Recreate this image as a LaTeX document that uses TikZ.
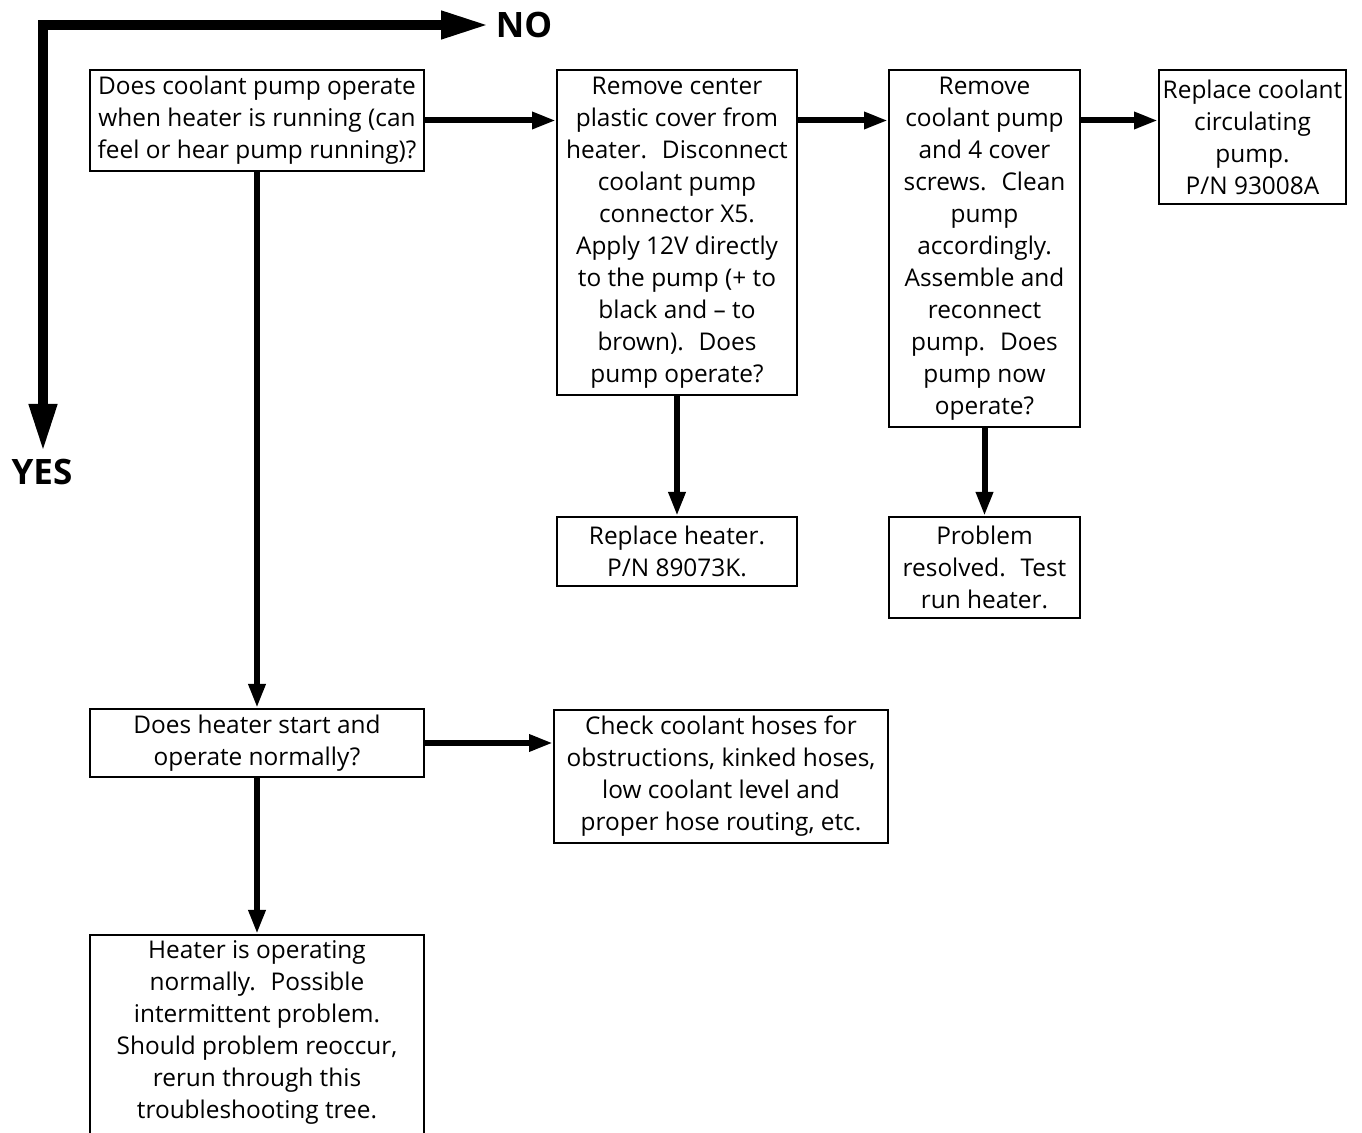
\documentclass[tikz,border=0pt]{standalone}
\usepackage{fontspec}
\setmainfont{Open Sans}
\usetikzlibrary{arrows.meta}
\begin{document}
\begin{tikzpicture}[x=0.5pt,y=-0.5pt,
  box/.style={draw,line width=1pt,rectangle,inner sep=0pt,align=center,
    font=\fontsize{12.2}{16}\selectfont},
  conn/.style={line width=3pt,-{Triangle[length=12pt,width=8pt]}},
  legendline/.style={line width=5pt,{Triangle[length=24pt,width=13pt]}-{Triangle[length=24pt,width=13pt]}},
  lbl/.style={font=\fontsize{17.5}{20}\selectfont\bfseries,inner sep=0pt}]
\useasboundingbox (0,0) rectangle (1362,1133);
% legend
\node[lbl] (no) at (524,25) {NO};
\node[lbl] (yes) at (42,472) {YES};
\coordinate (noend) at (489,25);
\coordinate (yesend) at (43,452);
\coordinate (corner) at (43,25);
\draw[legendline] (yesend) -- (corner) -- (noend);
% boxes
\node[box,minimum width=167pt,minimum height=50.5pt] (b1) at (257,120.5)
  {Does coolant pump operate\\when heater is running (can\\feel or hear pump running)?};
\node[box,minimum width=120pt,minimum height=162.5pt] (b2) at (677,232.5)
  {Remove center\\plastic cover from\\heater.~ Disconnect\\coolant pump\\connector X5.\\Apply 12V directly\\to the pump (+ to\\black and – to\\brown).~ Does\\pump operate?};
\node[box,minimum width=95.5pt,minimum height=178.5pt] (b3) at (984.5,248.5)
  {Remove\\coolant pump\\and 4 cover\\screws.~ Clean\\pump\\accordingly.\\Assemble and\\reconnect\\pump.~ Does\\pump now\\operate?};
\node[box,minimum width=93.5pt,minimum height=67pt] (b4) at (1252.5,137)
  {Replace coolant\\circulating\\pump.\\P/N 93008A};
\node[box,minimum width=120pt,minimum height=34.5pt] (b5) at (677,551.5)
  {Replace heater.\\P/N 89073K.};
\node[box,minimum width=95.5pt,minimum height=50.5pt] (b6) at (984.5,567.5)
  {Problem\\resolved.~ Test\\run heater.};
\node[box,minimum width=167pt,minimum height=34pt] (b7) at (257,743)
  {Does heater start and\\operate normally?};
\node[box,minimum width=167pt,minimum height=66.5pt] (b8) at (721,776.5)
  {Check coolant hoses for\\obstructions, kinked hoses,\\low coolant level and\\proper hose routing, etc.};
\node[box,minimum width=167pt,minimum height=150pt,anchor=north] (b9) at (257,934) {};
\node[box,draw=none] (b9t) at (257,1032)
  {Heater is operating\\normally.~ Possible\\intermittent problem.\\Should problem reoccur,\\rerun through this\\troubleshooting tree.};
% connectors
\draw[conn] (b1.east) -- (b2.west |- b1.east);
\draw[conn] (b2.east |- b1.east) -- (b3.west |- b1.east);
\draw[conn] (b3.east |- b1.east) -- (b4.west |- b1.east);
\draw[conn] (b1.south) -- (b7.north);
\draw[conn] (b2.south) -- (b5.north);
\draw[conn] (b3.south) -- (b6.north);
\draw[conn] (b7.east) -- (b8.west |- b7.east);
\draw[conn] (b7.south) -- (b9.north);
\end{tikzpicture}
\end{document}
